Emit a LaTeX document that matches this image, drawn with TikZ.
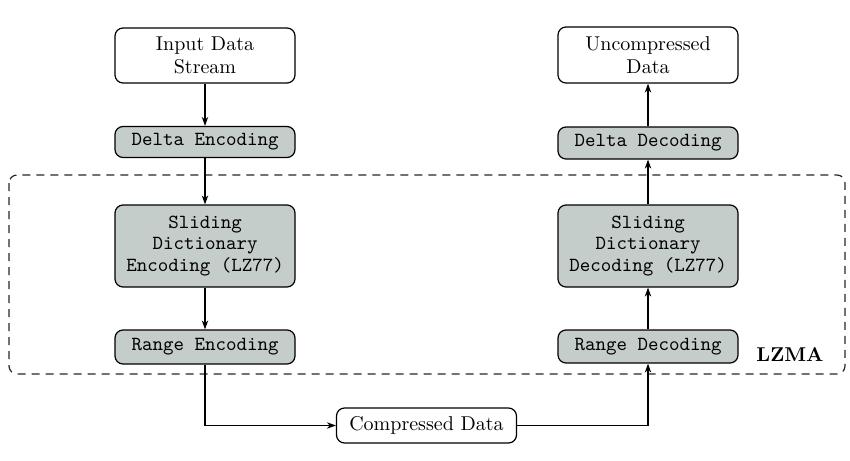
\documentclass[tikz,border=0pt]{standalone}
\usetikzlibrary{arrows.meta}
\definecolor{boxfill}{RGB}{197,205,202}
\begin{document}
\begin{tikzpicture}[x=0.5pt,y=-0.5pt,
  base/.style={draw=black,line width=0.6pt,rounded corners=4pt,minimum width=90pt,inner sep=0pt,align=center},
  databox/.style={base,fill=white,font=\fontsize{10pt}{11.8pt}\selectfont},
  procbox/.style={base,fill=boxfill,font=\fontsize{10pt}{10.9pt}\selectfont\ttfamily},
  arr/.style={line width=0.6pt,-{Stealth[length=4.5pt,width=3.2pt]}},
  lzmabox/.style={draw=black!85,line width=0.6pt,dash pattern=on 4pt off 3pt,rounded corners=4pt}
]
\useasboundingbox (0,0) rectangle (850,460);
\draw[lzmabox] (9,175) rectangle (845,374);
\node[font=\bfseries\fontsize{10pt}{12pt}\selectfont] (lzma) at (790,355) {LZMA};

\node[databox,minimum height=27.5pt] (in) at (205,55.5) {Input Data\\Stream};
\node[procbox,minimum height=15.5pt] (denc) at (205,142) {Delta Encoding};
\node[procbox,minimum height=41pt] (senc) at (205,246) {Sliding\\Dictionary\\Encoding (LZ77)};
\node[procbox,minimum height=17pt] (renc) at (205,347) {Range Encoding};

\node[databox,minimum height=28pt] (out) at (648,55) {Uncompressed\\Data};
\node[procbox,minimum height=16pt] (ddec) at (648,143) {Delta Decoding};
\node[procbox,minimum height=41pt] (sdec) at (648,246) {Sliding\\Dictionary\\Decoding (LZ77)};
\node[procbox,minimum height=16.5pt] (rdec) at (648,346.5) {Range Decoding};

\node[databox,minimum height=17.5pt] (comp) at (426.5,425.5) {Compressed Data};

\draw[arr] (in) -- (denc);
\draw[arr] (denc) -- (senc);
\draw[arr] (senc) -- (renc);
\draw[arr] (renc.south) |- (comp.west);
\draw[arr] (comp.east) -| (rdec.south);
\draw[arr] (rdec) -- (sdec);
\draw[arr] (sdec) -- (ddec);
\draw[arr] (ddec) -- (out);
\end{tikzpicture}
\end{document}
